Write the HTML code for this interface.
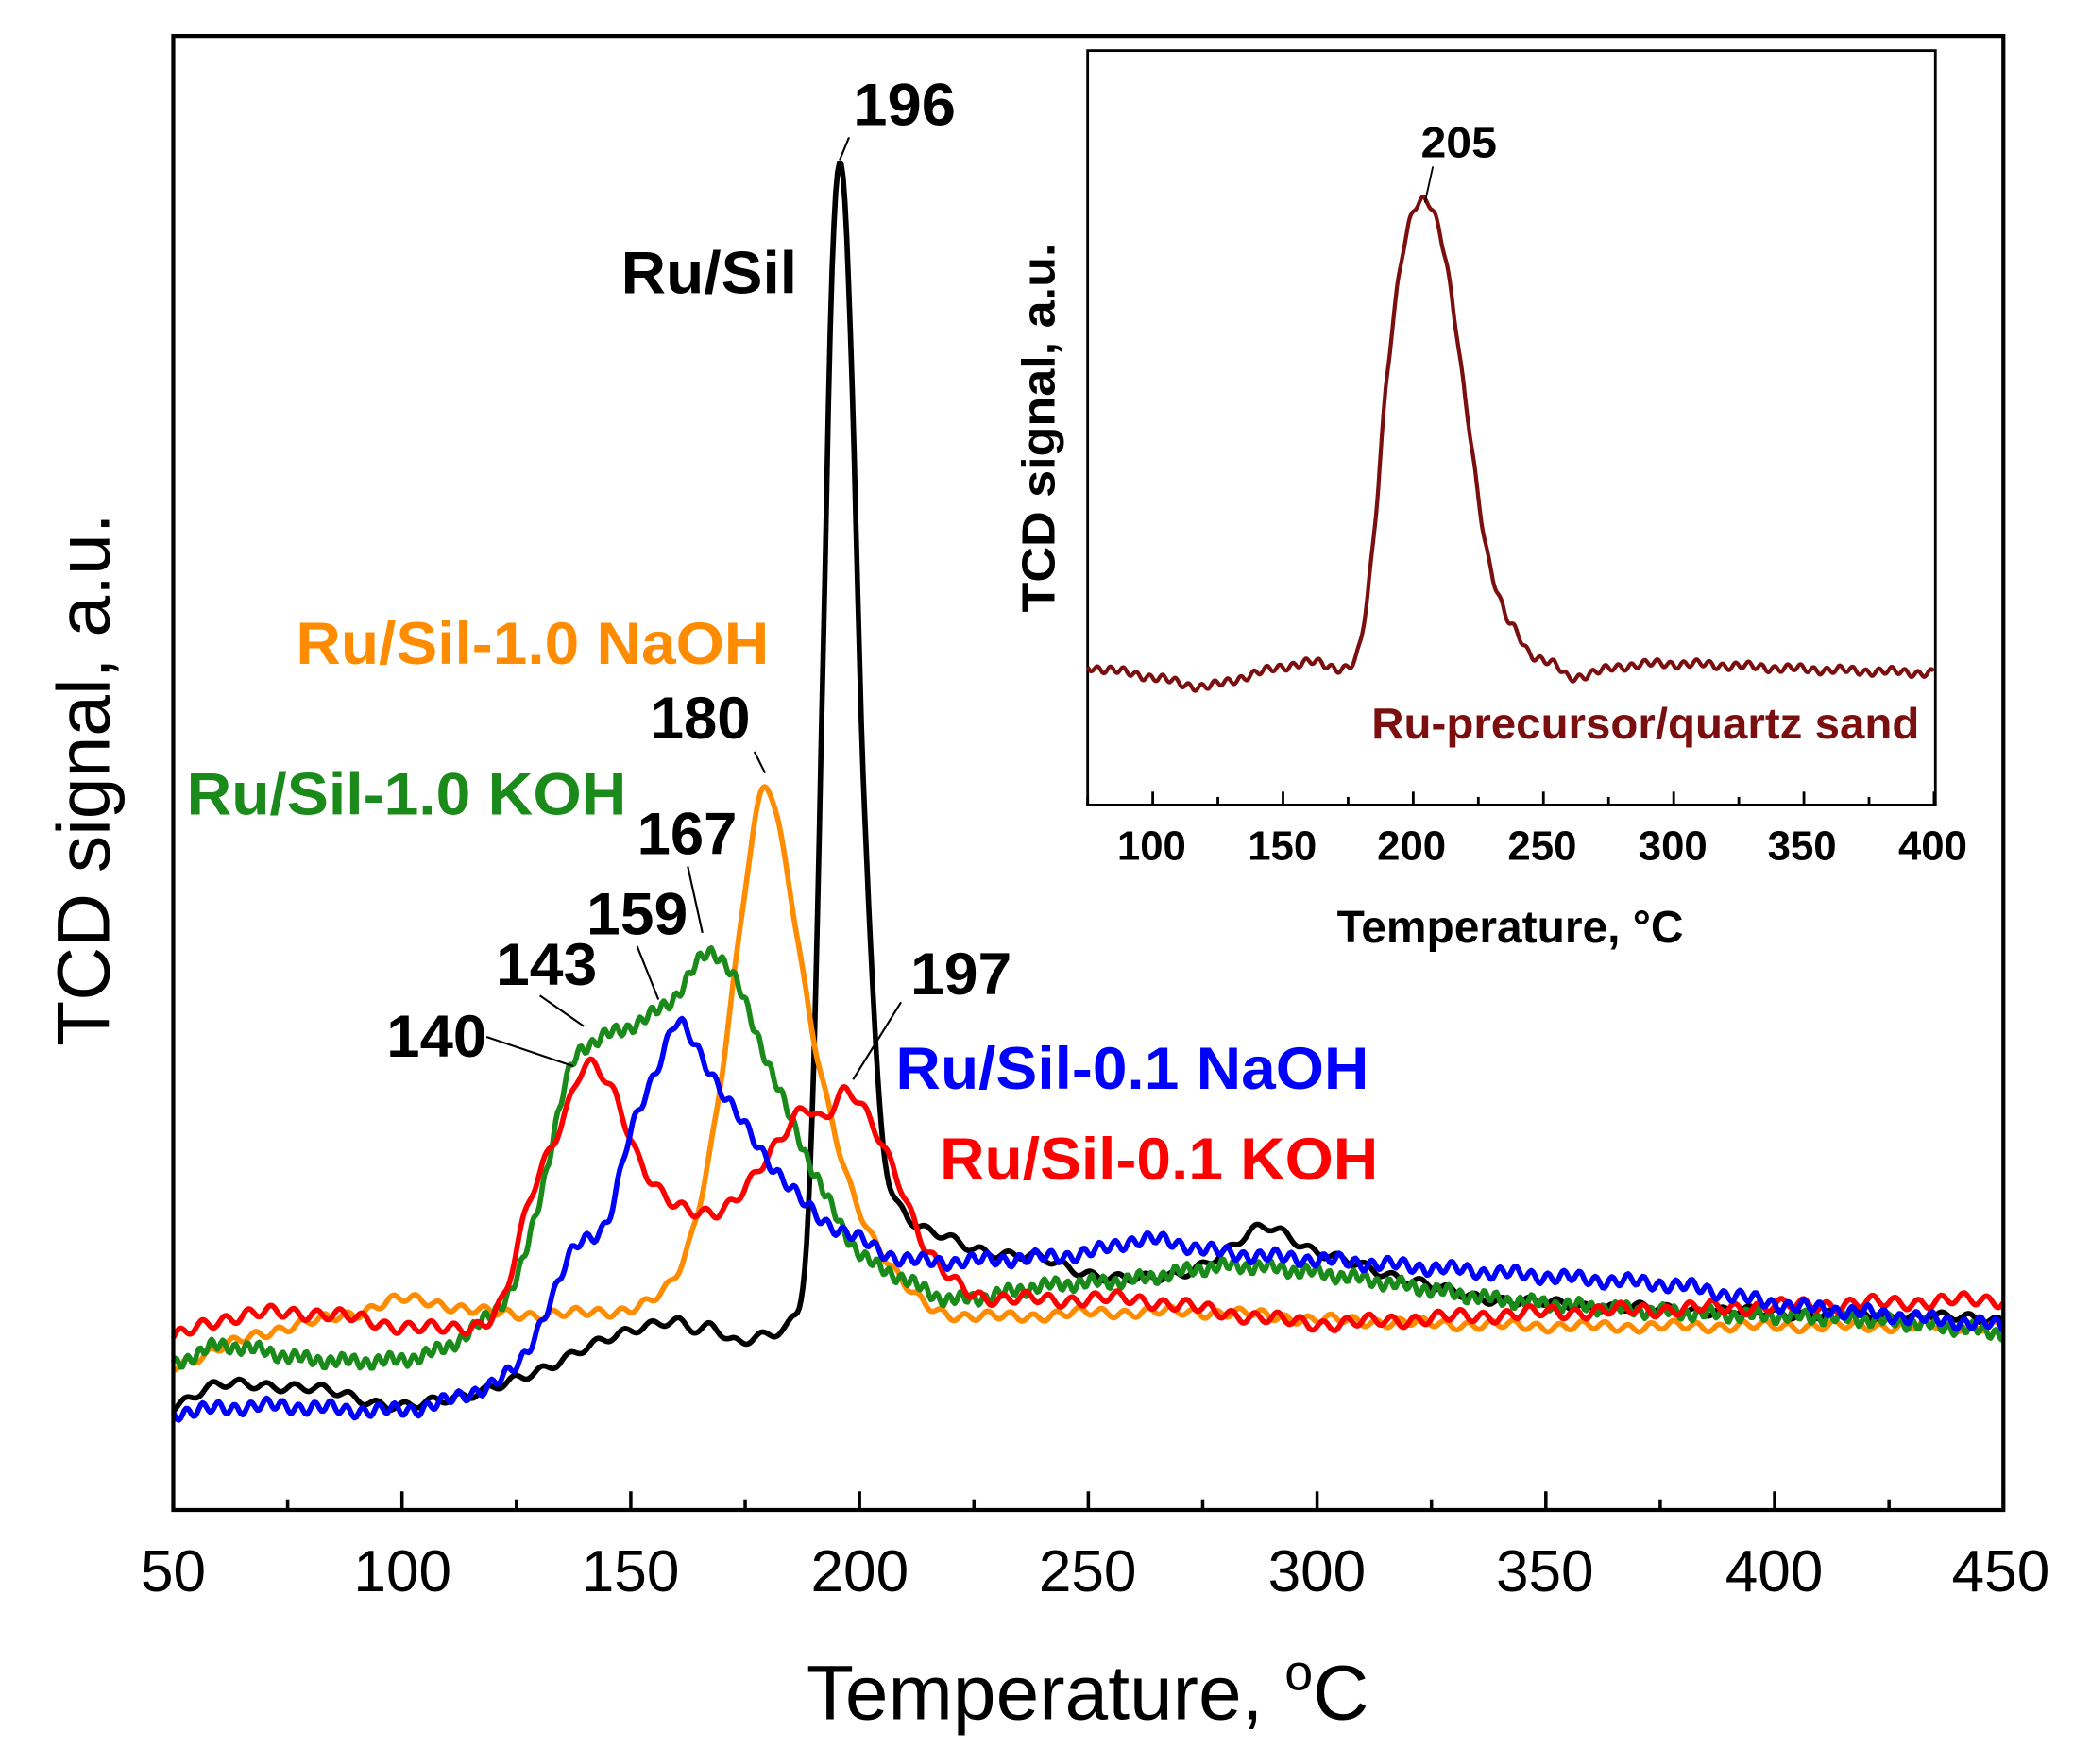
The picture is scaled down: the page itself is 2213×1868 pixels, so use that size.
<!DOCTYPE html>
<html><head><meta charset="utf-8"><style>
html,body{margin:0;padding:0;background:#fff}
svg{display:block}
text{font-family:"Liberation Sans",Arial,sans-serif}
</style></head><body>
<svg id="s" width="2213" height="1868" viewBox="0 0 1568 1323.6" preserveAspectRatio="none" xmlns="http://www.w3.org/2000/svg">
<rect width="1568" height="1324" fill="#fff"/>
<g id="curves"></g>
<rect x="130" y="27" width="1373" height="1106" fill="none" stroke="#000" stroke-width="3"/>
<g id="ticks" stroke="#000" stroke-width="2.5"></g>
<g font-size="44" text-anchor="middle">
<text x="130" y="1194">50</text><text x="302" y="1194">100</text><text x="473" y="1194">150</text><text x="645" y="1194">200</text><text x="816" y="1194">250</text><text x="988" y="1194">300</text><text x="1159" y="1194">350</text><text x="1331" y="1194">400</text><text x="1501" y="1194">450</text>
</g>
<text x="605" y="1290" font-size="58" textLength="422" lengthAdjust="spacingAndGlyphs">Temperature, <tspan dy="-22" font-size="38">o</tspan><tspan dy="22">C</tspan></text>
<text transform="translate(82,585) rotate(-90)" font-size="56" text-anchor="middle" textLength="400" lengthAdjust="spacingAndGlyphs">TCD signal, a.u.</text>
<g font-weight="bold" font-size="45" lengthAdjust="spacingAndGlyphs">
<text x="640" y="94" textLength="77" lengthAdjust="spacingAndGlyphs">196</text>
<text x="466" y="220" textLength="132" lengthAdjust="spacingAndGlyphs">Ru/Sil</text>
<text x="222" y="498" fill="#ff8c00" textLength="355" lengthAdjust="spacingAndGlyphs">Ru/Sil-1.0 NaOH</text>
<text x="488" y="554" textLength="75" lengthAdjust="spacingAndGlyphs">180</text>
<text x="140" y="611" fill="#1a8a1a" textLength="330" lengthAdjust="spacingAndGlyphs">Ru/Sil-1.0 KOH</text>
<text x="478" y="641" textLength="75" lengthAdjust="spacingAndGlyphs">167</text>
<text x="440" y="701" textLength="76" lengthAdjust="spacingAndGlyphs">159</text>
<text x="372" y="739" textLength="76" lengthAdjust="spacingAndGlyphs">143</text>
<text x="290" y="793" textLength="75" lengthAdjust="spacingAndGlyphs">140</text>
<text x="683" y="746" textLength="76" lengthAdjust="spacingAndGlyphs">197</text>
<text x="672" y="817" fill="#0000ff" textLength="355" lengthAdjust="spacingAndGlyphs">Ru/Sil-0.1 NaOH</text>
<text x="705" y="885" fill="#ff0000" textLength="329" lengthAdjust="spacingAndGlyphs">Ru/Sil-0.1 KOH</text>
</g>
<g stroke="#000" stroke-width="1.5" fill="none">
<line x1="630" y1="120" x2="637" y2="103"/>
<line x1="566" y1="564" x2="574" y2="580"/>
<line x1="516" y1="650" x2="527" y2="700"/>
<line x1="478" y1="710" x2="494" y2="750"/>
<line x1="405" y1="747" x2="438" y2="770"/>
<line x1="365" y1="778" x2="430" y2="800"/>
<line x1="676" y1="752" x2="640" y2="810"/>
</g>
<!-- inset -->
<rect x="816" y="38" width="636" height="566" fill="#fff" stroke="#000" stroke-width="2"/>
<g id="inset"></g>
<g id="iticks" stroke="#000" stroke-width="2"></g>
<g font-size="31" font-weight="bold" text-anchor="middle">
<text x="864" y="645">100</text><text x="962" y="645">150</text><text x="1059" y="645">200</text><text x="1157" y="645">250</text><text x="1255" y="645">300</text><text x="1352" y="645">350</text><text x="1450" y="645">400</text>
</g>
<text x="1003" y="707" font-size="34" font-weight="bold" textLength="260" lengthAdjust="spacingAndGlyphs">Temperature, °C</text>
<text transform="translate(791,321) rotate(-90)" font-size="35" font-weight="bold" text-anchor="middle" textLength="277" lengthAdjust="spacingAndGlyphs">TCD signal, a.u.</text>
<text x="1066" y="118" font-size="32" font-weight="bold" textLength="57" lengthAdjust="spacingAndGlyphs">205</text>
<line x1="1069" y1="152" x2="1075" y2="125" stroke="#000" stroke-width="1.3"/>
<text x="1029" y="554" font-size="33" font-weight="bold" fill="#7b0f0f" textLength="411" lengthAdjust="spacingAndGlyphs">Ru-precursor/quartz sand</text>
</svg>
<script>
const NS="http://www.w3.org/2000/svg";
function interp(pts,T){
 for(let i=0;i<pts.length-1;i++){if(T<=pts[i+1][0]){
  const p0=pts[Math.max(i-1,0)],p1=pts[i],p2=pts[i+1],p3=pts[Math.min(i+2,pts.length-1)];
  const t=(T-p1[0])/(p2[0]-p1[0]);
  const m1=(p2[1]-p0[1])/(p2[0]-p0[0]||1)*(p2[0]-p1[0]);
  const m2=(p3[1]-p1[1])/(p3[0]-p1[0]||1)*(p2[0]-p1[0]);
  const t2=t*t,t3=t2*t;
  return (2*t3-3*t2+1)*p1[1]+(t3-2*t2+t)*m1+(-2*t3+3*t2)*p2[1]+(t3-t2)*m2;}}
 return pts[pts.length-1][1];}
function path(g,pts,col,xm,t0,t1,amp,per,ph,w){
 let d="";for(let T=t0;T<=t1;T+=0.4){const y=interp(pts,T)+amp*Math.sin(2*Math.PI*T/per+ph)+amp*0.5*Math.sin(2*Math.PI*T/(per*3.7)+ph*2);
 d+=(d?"L":"M")+xm(T).toFixed(1)+" "+y.toFixed(1);}
 const p=document.createElementNS(NS,"path");p.setAttribute("d",d);p.setAttribute("fill","none");p.setAttribute("stroke",col);p.setAttribute("stroke-width",w);p.setAttribute("stroke-linejoin","round");
 document.getElementById(g).appendChild(p);}
const X=T=>130+(T-50)*3.4325;
const black=[[50,1055],[60,1040],[80,1042],[100,1055],[110,1050],[120,1040],[130,1030],[140,1010],[150,1000],[160,990],[165,998],[168,995],[172,1008],[180,1000],[185,990],[188,950],[190,800],[192,500],[194,200],[196,127],[198,250],[201,600],[205,850],[210,910],[220,930],[230,940],[240,945],[250,955],[260,960],[270,955],[280,940],[289,920],[300,940],[310,950],[320,960],[330,970],[340,975],[360,980],[400,985],[450,990]];
const orange=[[50,1025],[70,1000],[90,985],[100,975],[120,985],[140,985],[155,975],[162,940],[168,850],[172,750],[177,620],[180,590],[184,650],[190,780],[197,880],[205,940],[215,980],[230,988],[250,985],[280,985],[300,990],[350,995],[400,995],[450,995]];
const green=[[50,1025],[60,1010],[80,1020],[100,1020],[110,1010],[118,990],[125,960],[130,900],[137,800],[143,780],[150,770],[159,750],[167,715],[172,730],[178,780],[185,840],[193,900],[200,940],[210,960],[220,975],[240,965],[260,960],[280,950],[300,955],[320,965],[340,975],[380,985],[420,990],[450,1000]];
const red=[[50,1005],[60,990],[80,985],[100,995],[115,995],[122,975],[128,900],[135,840],[140,800],[146,820],[152,870],[160,905],[168,910],[175,890],[182,860],[188,830],[192,838],[197,820],[202,840],[208,880],[215,940],[225,970],[240,975],[260,975],[280,985],[300,993],[320,990],[350,985],[400,980],[450,975]];
const blue=[[50,1060],[70,1055],[100,1058],[115,1045],[125,1025],[132,980],[138,935],[145,915],[150,850],[157,790],[160,768],[165,790],[172,830],[180,870],[190,910],[200,930],[210,945],[230,945],[250,940],[262,930],[280,940],[300,945],[320,950],[340,955],[360,960],[380,965],[400,978],[420,985],[450,995]];
path("curves",black,"#000",X,50,450,3,6,0,4);
path("curves",orange,"#ff8c00",X,50,450,3,5,1,4);
path("curves",green,"#1a8a1a",X,50,450,4,2.6,2,4);
path("curves",red,"#ff0000",X,50,450,4,5,3,4);
path("curves",blue,"#0000ff",X,50,450,4,3.5,4,4);
const XI=T=>816+(T-75)*1.954;
const ins=[[75,500],[100,508],[120,515],[140,505],[160,497],[175,500],[180,480],[185,400],[190,280],[197,180],[205,150],[212,190],[220,300],[228,410],[235,460],[240,475],[245,490],[255,500],[260,508],[280,500],[300,498],[350,502],[400,505]];
path("inset",ins,"#7b0f0f",XI,75,400,2.5,5,0,3);
let tk="";for(let T=50;T<=450;T+=25){const x=X(T);const L=(T%50==0)?14:8;tk+=`<line x1="${x}" y1="1133" x2="${x}" y2="${1133-L}"/>`;}
document.getElementById("ticks").innerHTML=tk;
let it="";for(let T=75;T<=400;T+=25){const x=XI(T);const L=(T%50==0)?10:6;it+=`<line x1="${x}" y1="604" x2="${x}" y2="${604-L}"/>`;}
document.getElementById("iticks").innerHTML=it;
</script>
</body></html>
